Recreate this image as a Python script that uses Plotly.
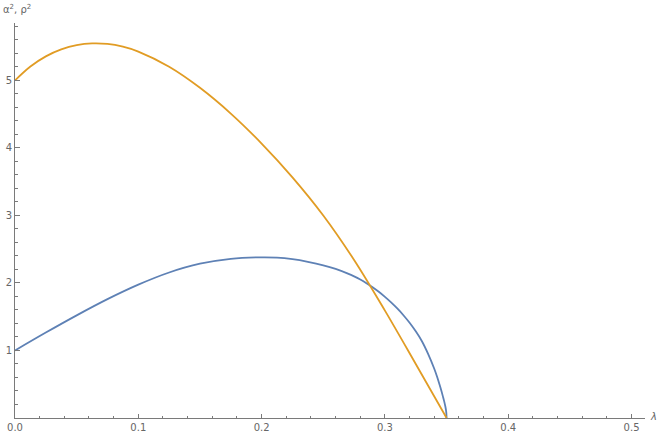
import plotly.graph_objects as go

# Blue curve
blue_x = [0.0, 0.025, 0.05, 0.075, 0.1, 0.125, 0.15, 0.175, 0.2, 0.2125, 0.225, 0.2375, 0.25, 0.26, 0.27,
          0.275, 0.28, 0.285, 0.29, 0.295, 0.3, 0.305, 0.31, 0.315, 0.32, 0.325, 0.33, 0.335,
          0.34, 0.3425, 0.345, 0.347, 0.348, 0.349, 0.3497, 0.35]
blue_y = [1.0, 1.265, 1.52, 1.76, 1.975, 2.155, 2.285, 2.358, 2.38, 2.375, 2.352, 2.313, 2.262, 2.208, 2.138,
          2.097, 2.05, 1.997, 1.937, 1.869, 1.794, 1.712, 1.622, 1.522, 1.410, 1.283, 1.137, 0.95,
          0.73, 0.60, 0.45, 0.32, 0.25, 0.17, 0.09, 0.0]

# Orange curve
orange_x = [0.0, 0.0125, 0.025, 0.0375, 0.05, 0.0625, 0.075, 0.0875, 0.1, 0.125, 0.15, 0.175,
            0.2, 0.225, 0.25, 0.275, 0.3, 0.325, 0.35]
orange_y = [5.0, 5.206, 5.356, 5.459, 5.522, 5.548, 5.540, 5.499, 5.427, 5.202, 4.890, 4.509,
            4.065, 3.565, 3.00, 2.34, 1.59, 0.80, 0.0]

x_ticks = [0.0, 0.1, 0.2, 0.3, 0.4, 0.5]
x_tick_text = ["0.0", "0.1", "0.2", "0.3", "0.4", "0.5"]
y_ticks = [1, 2, 3, 4, 5]
y_tick_text = ["1", "2", "3", "4", "5"]

BLUE = "#5E81B5"
ORANGE = "#E19C24"
AXIS = "#7a7a7a"
TXT = "#666666"
FONT = "DejaVu Sans"

fig = go.Figure()
fig.add_trace(go.Scatter(x=blue_x, y=blue_y, mode="lines",
                         line=dict(color=BLUE, width=1.8, shape="spline", smoothing=1.0),
                         showlegend=False, hoverinfo="skip"))
fig.add_trace(go.Scatter(x=orange_x, y=orange_y, mode="lines",
                         line=dict(color=ORANGE, width=1.8, shape="spline", smoothing=1.0),
                         showlegend=False, hoverinfo="skip"))

fig.update_layout(
    template="none",
    width=658, height=435,
    margin=dict(l=15, r=13, t=23, b=17),
    paper_bgcolor="white", plot_bgcolor="white",
    font=dict(family=FONT, size=10, color=TXT),
    xaxis=dict(range=[0, 0.5109], showgrid=False, zeroline=False, automargin=False,
               showline=True, linecolor=AXIS, linewidth=1,
               tickmode="array", tickvals=x_ticks, ticktext=x_tick_text,
               ticks="inside", ticklen=4, tickcolor=AXIS, tickwidth=1,
               minor=dict(tickmode="linear", tick0=0, dtick=0.02, ticks="inside",
                          ticklen=2.5, tickcolor=AXIS, tickwidth=1, showgrid=False),
               tickfont=dict(family=FONT, size=10, color=TXT)),
    yaxis=dict(range=[0, 5.85], showgrid=False, zeroline=False, automargin=False,
               showline=True, linecolor=AXIS, linewidth=1,
               tickmode="array", tickvals=y_ticks, ticktext=y_tick_text,
               ticks="inside", ticklen=4.5, tickcolor=AXIS, tickwidth=1,
               minor=dict(tickmode="linear", tick0=0, dtick=0.2, ticks="inside",
                          ticklen=2.5, tickcolor=AXIS, tickwidth=1, showgrid=False),
               tickfont=dict(family=FONT, size=10, color=TXT)),
    annotations=[
        dict(text="α<sup>2</sup>, ρ<sup>2</sup>", xref="paper", yref="paper",
             x=-0.022, y=1.035, xanchor="left", yanchor="middle", showarrow=False,
             font=dict(family=FONT, size=10, color=TXT)),
        dict(text="<i>λ</i>", xref="paper", yref="paper",
             x=1.0127, y=0.003, xanchor="center", yanchor="middle", showarrow=False,
             font=dict(family=FONT, size=10, color=TXT)),
    ],
)

fig.write_html("out.html", config={"displayModeBar": False},
               post_script="document.body.style.margin='0';document.body.style.overflow='hidden';")
